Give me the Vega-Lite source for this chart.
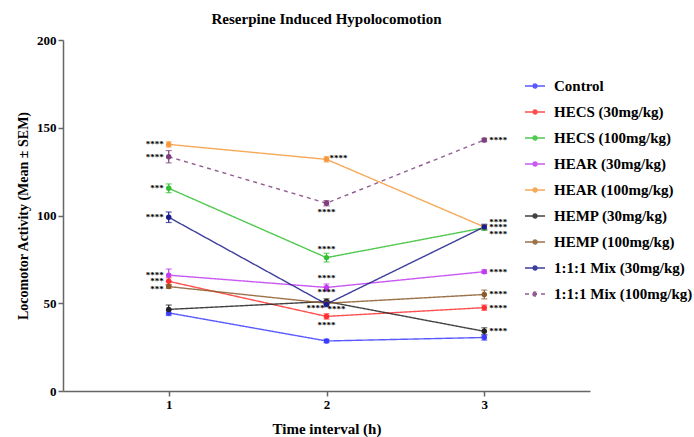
{
  "$schema": "https://vega.github.io/schema/vega-lite/v6.json",
  "width": 527,
  "height": 351,
  "padding": {"left": 16, "top": 12, "right": 0, "bottom": 5},
  "background": "white",
  "title": {"text": "Reserpine Induced Hypolocomotion", "font": "Liberation Serif", "fontSize": 15, "fontWeight": "bold", "color": "#000", "anchor": "middle", "offset": 7},
  "config": {
    "view": {"stroke": null},
    "axis": {"grid": false, "domainColor": "#666", "domainWidth": 1.5, "tickColor": "#666", "tickWidth": 1.5, "tickSize": 5, "labelFont": "Liberation Serif", "labelFontWeight": "bold", "labelFontSize": 13, "labelColor": "#000", "titleFont": "Liberation Serif", "titleFontWeight": "bold", "titleFontSize": 14, "titleColor": "#000"}
  },
  "data": {"values": [
    {"series": "Control", "time": 1, "mean": 44.5, "sem": 1.5, "sig": ""},
    {"series": "Control", "time": 2, "mean": 28.5, "sem": 1.0, "sig": ""},
    {"series": "Control", "time": 3, "mean": 30.5, "sem": 1.5, "sig": ""},
    {"series": "HECS (30mg/kg)", "time": 1, "mean": 62.5, "sem": 2.0, "sig": "***"},
    {"series": "HECS (30mg/kg)", "time": 2, "mean": 42.5, "sem": 1.5, "sig": "****"},
    {"series": "HECS (30mg/kg)", "time": 3, "mean": 47.5, "sem": 1.5, "sig": "****"},
    {"series": "HECS (100mg/kg)", "time": 1, "mean": 115.5, "sem": 2.5, "sig": "***"},
    {"series": "HECS (100mg/kg)", "time": 2, "mean": 76, "sem": 2.5, "sig": "****"},
    {"series": "HECS (100mg/kg)", "time": 3, "mean": 93, "sem": 1.5, "sig": "****"},
    {"series": "HEAR (30mg/kg)", "time": 1, "mean": 66, "sem": 3.5, "sig": "****"},
    {"series": "HEAR (30mg/kg)", "time": 2, "mean": 59, "sem": 2.0, "sig": "****"},
    {"series": "HEAR (30mg/kg)", "time": 3, "mean": 68, "sem": 1.0, "sig": "****"},
    {"series": "HEAR (100mg/kg)", "time": 1, "mean": 140.5, "sem": 1.5, "sig": "****"},
    {"series": "HEAR (100mg/kg)", "time": 2, "mean": 132, "sem": 1.5, "sig": "****"},
    {"series": "HEAR (100mg/kg)", "time": 3, "mean": 93.5, "sem": 1.0, "sig": "****"},
    {"series": "HEMP (30mg/kg)", "time": 1, "mean": 46.5, "sem": 2.5, "sig": ""},
    {"series": "HEMP (30mg/kg)", "time": 2, "mean": 51, "sem": 1.5, "sig": "****"},
    {"series": "HEMP (30mg/kg)", "time": 3, "mean": 34, "sem": 2.0, "sig": "****"},
    {"series": "HEMP (100mg/kg)", "time": 1, "mean": 59.5, "sem": 1.0, "sig": "***"},
    {"series": "HEMP (100mg/kg)", "time": 2, "mean": 50, "sem": 1.5, "sig": "****"},
    {"series": "HEMP (100mg/kg)", "time": 3, "mean": 55, "sem": 2.5, "sig": "****"},
    {"series": "1:1:1 Mix (30mg/kg)", "time": 1, "mean": 99, "sem": 3.0, "sig": "****"},
    {"series": "1:1:1 Mix (30mg/kg)", "time": 2, "mean": 49.5, "sem": 1.5, "sig": "****"},
    {"series": "1:1:1 Mix (30mg/kg)", "time": 3, "mean": 93.5, "sem": 1.5, "sig": "****"},
    {"series": "1:1:1 Mix (100mg/kg)", "time": 1, "mean": 133.5, "sem": 3.5, "sig": "****"},
    {"series": "1:1:1 Mix (100mg/kg)", "time": 2, "mean": 107, "sem": 1.5, "sig": "****"},
    {"series": "1:1:1 Mix (100mg/kg)", "time": 3, "mean": 143, "sem": 1.0, "sig": "****"}
  ]},
  "encoding": {
    "x": {"field": "time", "type": "quantitative", "scale": {"domain": [0.33, 3.67], "nice": false, "zero": false}, "axis": {"values": [1, 2, 3], "format": "d", "title": "Time interval (h)", "titlePadding": 10, "titleFontSize": 15}},
    "y": {"field": "mean", "type": "quantitative", "scale": {"domain": [0, 200], "nice": false}, "axis": {"values": [0, 50, 100, 150, 200], "title": "Locomotor Activity (Mean ± SEM)", "titlePadding": 6}}
  },
  "layer": [
    {
      "mark": {"type": "line", "strokeWidth": 1.4, "opacity": 0.85},
      "encoding": {
        "color": {"field": "series", "type": "nominal",
          "scale": {"domain": ["Control", "HECS (30mg/kg)", "HECS (100mg/kg)", "HEAR (30mg/kg)", "HEAR (100mg/kg)", "HEMP (30mg/kg)", "HEMP (100mg/kg)", "1:1:1 Mix (30mg/kg)", "1:1:1 Mix (100mg/kg)"],
                    "range": ["#3c3cff", "#ff3030", "#33c033", "#c03cf0", "#f59a3c", "#222222", "#8b5a2b", "#1c1c8a", "#7f3f7f"]},
          "legend": {"orient": "none", "legendX": 461, "legendY": 35, "title": null, "labelFont": "Liberation Serif", "labelFontWeight": "bold", "labelFontSize": 15, "labelColor": "#000", "symbolType": "M-1,0H1M-0.2,0A0.2,0.2,0,1,0,0.2,0A0.2,0.2,0,1,0,-0.2,0Z", "symbolSize": 400, "symbolStrokeWidth": 1.4, "rowPadding": 7, "labelOffset": 8, "labelLimit": 300,
            "encode": {"symbols": {"update": {"fill": {"scale": "color", "field": "value"}, "stroke": {"scale": "color", "field": "value"}}}}}},
        "strokeDash": {"field": "series", "type": "nominal",
          "scale": {"domain": ["Control", "HECS (30mg/kg)", "HECS (100mg/kg)", "HEAR (30mg/kg)", "HEAR (100mg/kg)", "HEMP (30mg/kg)", "HEMP (100mg/kg)", "1:1:1 Mix (30mg/kg)", "1:1:1 Mix (100mg/kg)"],
                    "range": [[1, 0], [1, 0], [1, 0], [1, 0], [1, 0], [1, 0], [1, 0], [1, 0], [4, 4]]},
          "legend": null}
      }
    },
    {
      "mark": {"type": "errorbar", "ticks": {"size": 6}, "thickness": 1.2},
      "encoding": {
        "yError": {"field": "sem"},
        "color": {"field": "series", "type": "nominal", "legend": null}
      }
    },
    {
      "mark": {"type": "point", "filled": true, "size": 30, "opacity": 1},
      "encoding": {"color": {"field": "series", "type": "nominal", "legend": null}}
    },
    {
      "transform": [{"filter": "datum.time == 1 && datum.sig != '' && datum.series != 'HEMP (100mg/kg)'"}],
      "mark": {"type": "text", "align": "right", "baseline": "middle", "dx": -5, "font": "Liberation Serif", "fontWeight": "bold", "fontSize": 9, "color": "#000"},
      "encoding": {"text": {"field": "sig"}}
    },
    {
      "transform": [{"filter": "datum.time == 1 && datum.series == 'HEMP (100mg/kg)'"}],
      "mark": {"type": "text", "align": "right", "baseline": "middle", "dx": -5, "dy": 2, "font": "Liberation Serif", "fontWeight": "bold", "fontSize": 9, "color": "#000"},
      "encoding": {"text": {"field": "sig"}}
    },
    {
      "transform": [{"filter": "datum.time == 3 && indexof(['HEAR (100mg/kg)','HECS (100mg/kg)','1:1:1 Mix (30mg/kg)'], datum.series) < 0 && datum.sig != ''"}],
      "mark": {"type": "text", "align": "left", "baseline": "middle", "dx": 5, "font": "Liberation Serif", "fontWeight": "bold", "fontSize": 9, "color": "#000"},
      "encoding": {"text": {"field": "sig"}}
    },
    {
      "transform": [{"filter": "datum.time == 3 && datum.series == 'HEAR (100mg/kg)'"}],
      "mark": {"type": "text", "align": "left", "baseline": "middle", "dx": 5, "dy": -5, "font": "Liberation Serif", "fontWeight": "bold", "fontSize": 9, "color": "#000"},
      "encoding": {"text": {"field": "sig"}}
    },
    {
      "transform": [{"filter": "datum.time == 3 && datum.series == '1:1:1 Mix (30mg/kg)'"}],
      "mark": {"type": "text", "align": "left", "baseline": "middle", "dx": 5, "dy": 0, "font": "Liberation Serif", "fontWeight": "bold", "fontSize": 9, "color": "#000"},
      "encoding": {"text": {"field": "sig"}}
    },
    {
      "transform": [{"filter": "datum.time == 3 && datum.series == 'HECS (100mg/kg)'"}],
      "mark": {"type": "text", "align": "left", "baseline": "middle", "dx": 5, "dy": 6, "font": "Liberation Serif", "fontWeight": "bold", "fontSize": 9, "color": "#000"},
      "encoding": {"text": {"field": "sig"}}
    },
    {
      "transform": [{"filter": "datum.time == 2 && indexof(['HECS (100mg/kg)','HEAR (30mg/kg)','HEMP (30mg/kg)'], datum.series) >= 0"}],
      "mark": {"type": "text", "align": "center", "baseline": "middle", "dy": -9, "font": "Liberation Serif", "fontWeight": "bold", "fontSize": 9, "color": "#000"},
      "encoding": {"text": {"field": "sig"}}
    },
    {
      "transform": [{"filter": "datum.time == 2 && indexof(['1:1:1 Mix (100mg/kg)','HECS (30mg/kg)'], datum.series) >= 0"}],
      "mark": {"type": "text", "align": "center", "baseline": "middle", "dy": 9, "font": "Liberation Serif", "fontWeight": "bold", "fontSize": 9, "color": "#000"},
      "encoding": {"text": {"field": "sig"}}
    },
    {
      "transform": [{"filter": "datum.time == 2 && datum.series == 'HEAR (100mg/kg)'"}],
      "mark": {"type": "text", "align": "left", "baseline": "middle", "dx": 3, "dy": -1, "font": "Liberation Serif", "fontWeight": "bold", "fontSize": 9, "color": "#000"},
      "encoding": {"text": {"field": "sig"}}
    },
    {
      "transform": [{"filter": "datum.time == 2 && datum.series == 'HEMP (100mg/kg)'"}],
      "mark": {"type": "text", "align": "left", "baseline": "middle", "dx": 1, "dy": 6, "font": "Liberation Serif", "fontWeight": "bold", "fontSize": 9, "color": "#000"},
      "encoding": {"text": {"field": "sig"}}
    },
    {
      "transform": [{"filter": "datum.time == 2 && datum.series == '1:1:1 Mix (30mg/kg)'"}],
      "mark": {"type": "text", "align": "right", "baseline": "middle", "dx": -2, "dy": 4, "font": "Liberation Serif", "fontWeight": "bold", "fontSize": 9, "color": "#000"},
      "encoding": {"text": {"field": "sig"}}
    }
  ]
}
